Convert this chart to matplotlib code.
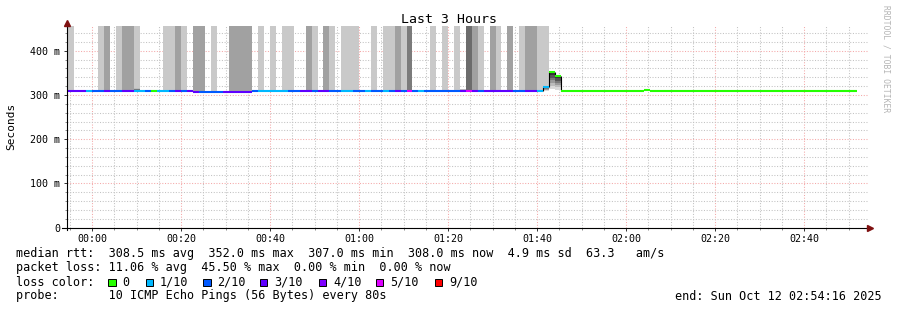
import matplotlib
matplotlib.use("Agg")
import matplotlib.pyplot as plt
from matplotlib.patches import Rectangle
from matplotlib.ticker import FixedLocator, MultipleLocator
import numpy as np

plt.rcParams['font.family'] = ['DejaVu Sans Mono', 'DejaVu Sans']

# ---------------- data (one value per 80 s step) ----------------
STEP_S = 80
FIRST_STEP_MIN = -6.65          # left edge of first step, minutes after 00:00
END_MIN = 174 + 16 / 60         # 02:54:16
SPAN_MIN = 180                  # last 3 hours

# packet loss per step (x/10)
loss = [3, 3, 3, 3, 1, 2, 2, 3, 2, 2,
        3, 3, 1, 1, 2, 0, 1, 1, 2, 3,
        2, 3, 3, 2, 2, 2, 2, 3, 3, 3,
        3, 3, 2, 1, 1, 1, 1, 1, 2, 2,
        3, 3, 2, 3, 3, 2, 2, 1, 1, 2,
        2, 1, 2, 2, 1, 2, 3, 2, 5, 2,
        1, 2, 2, 2, 2, 2, 2, 3, 5, 3,
        2, 3, 3, 3, 3, 3, 2, 2, 3, 3,
        1, 1, 0, 0] + [0] * 50

# median rtt per step (ms)
median = ([309] * 22 + [307] * 10 + [309] * 49 + [319, 352, 343]
          + [308] * 14 + [311] + [308] * 24 + [310] + [308] * 10)

# shade of the smoke that runs off the top of the graph (0 = none)
smoke_top = [1, 1, 0, 0, 0, 0, 1, 2, 0, 1,
             2, 2, 1, 0, 0, 0, 0, 1, 1, 2,
             1, 0, 2, 2, 0, 1, 0, 0, 2, 2,
             2, 2, 0, 1, 0, 1, 0, 1, 1, 0,
             0, 2, 1, 0, 2, 1, 0, 1, 1, 1,
             0, 0, 1, 0, 1, 1, 2, 1, 3, 0,
             0, 0, 1, 0, 1, 0, 1, 0, 4, 2,
             1, 0, 2, 1, 0, 2, 0, 1, 2, 2,
             1, 1, 0, 0] + [0] * 50

# smoke bands around the median (step index, low ms, high ms)
band_steps = [12, 67, 81, 82, 83]
band_lo = [310, 309, 309, 314, 312]
band_hi = [316, 314, 319, 352, 343]

loss_levels = [0, 1, 2, 3, 4, 5, 9]
loss_labels = ['0', '1/10', '2/10', '3/10', '4/10', '5/10', '9/10']
loss_colors = ['#26ff00', '#00b8ff', '#0059ff', '#5e00ff', '#7e00ff', '#dd00ff', '#ff0000']

xtick_pos = [0, 20, 40, 60, 80, 100, 120, 140, 160]
xtick_labels = ['00:00', '00:20', '00:40', '01:00', '01:20', '01:40', '02:00', '02:20', '02:40']
ytick_pos = [0, 100, 200, 300, 400]
ytick_labels = ['0', '100 m', '200 m', '300 m', '400 m']
YMAX = 455

stats_rtt = "median rtt:  308.5 ms avg  352.0 ms max  307.0 ms min  308.0 ms now  4.9 ms sd  63.3   am/s"
stats_loss = "packet loss: 11.06 % avg  45.50 % max  0.00 % min  0.00 % now"
probe_txt = "probe:       10 ICMP Echo Pings (56 Bytes) every 80s"
end_txt = "end: Sun Oct 12 02:54:16 2025"

# ---------------- figure ----------------
W, H = 897, 310
fig = plt.figure(figsize=(W / 100, H / 100), dpi=100)
fig.patch.set_facecolor('white')


def fx(px):
    return px / W


def fy(py):
    return 1 - py / H


AX_L, AX_R, AX_B, AX_T = 66.5, 867.5, 227.7, 26.4
ax = fig.add_axes([fx(AX_L), fy(AX_B), (AX_R - AX_L) / W, (AX_B - AX_T) / H])
ax.set_xlim(END_MIN - SPAN_MIN, END_MIN)
ax.set_ylim(0, YMAX)
for s in ax.spines.values():
    s.set_visible(False)

n = len(loss)
step_w = STEP_S / 60
left = FIRST_STEP_MIN + np.arange(n) * step_w
med = np.array(median, dtype=float)

shade_colors = {1: '#c9c9c9', 2: '#a1a1a1', 3: '#7b7b7b', 4: '#6c6c6c'}
for i in range(n):
    if smoke_top[i]:
        ax.bar(left[i], YMAX - med[i], width=step_w, bottom=med[i], align='edge',
               color=shade_colors[smoke_top[i]], linewidth=0, antialiased=False, zorder=2)

# smoke bands (gradient darker toward median)
layer_cols = ['#dadada', '#bcbcbc', '#9a9a9a', '#787878', '#545454', '#343434']
nl = len(layer_cols)
for k, lo, hi in zip(band_steps, band_lo, band_hi):
    m = med[k]
    for j, c in enumerate(layer_cols):
        b = lo + (m - lo) * j / nl
        t = hi - (hi - m) * j / nl
        if t > b:
            ax.bar(left[k], t - b, width=step_w, bottom=b, align='edge', color=c,
                   linewidth=0, antialiased=False, zorder=3)

# black connectors where the median jumps
for i in range(1, n):
    if abs(med[i] - med[i - 1]) >= 4:
        ax.vlines(left[i], min(med[i], med[i - 1]), max(med[i], med[i - 1]),
                  colors='black', linewidth=0.8, zorder=4)

# median line coloured by loss
cmap = dict(zip(loss_levels, loss_colors))
ax.hlines(med, left, left + step_w, colors=[cmap[l] for l in loss],
          linewidth=1.5, zorder=5)

# grid & ticks
ax.xaxis.set_major_locator(FixedLocator(xtick_pos))
ax.set_xticklabels(xtick_labels)
ax.xaxis.set_minor_locator(MultipleLocator(5))
ax.yaxis.set_major_locator(FixedLocator(ytick_pos))
ax.set_yticklabels(ytick_labels)
ax.yaxis.set_minor_locator(MultipleLocator(20))
ax.set_axisbelow(True)
ax.grid(which='major', color='#f4a8a8', linestyle=(0, (1, 1.6)), linewidth=0.75)
ax.grid(which='minor', color='#c2c2c2', linestyle=(0, (1, 1.6)), linewidth=0.75)
ax.tick_params(which='major', direction='out', length=2.5, width=0.7, color='#333333',
               labelsize=7.2, pad=2.0)
ax.tick_params(which='minor', direction='out', length=1.2, width=0.6, color='#777777')
ax.tick_params(axis='x', which='major', pad=2.2)

# axes lines with arrows
ax.plot([0, 0], [-0.012, 1.0], transform=ax.transAxes, color='black', lw=0.8,
        clip_on=False, zorder=6)
ax.plot([-0.0056, 1.0006], [0, 0], transform=ax.transAxes, color='black', lw=0.8,
        clip_on=False, zorder=6)
ax.plot([0], [1.015], marker='^', markersize=4, color='#7f1010', transform=ax.transAxes,
        clip_on=False, zorder=7)
ax.plot([1.0035], [0], marker='>', markersize=4, color='#7f1010', transform=ax.transAxes,
        clip_on=False, zorder=7)

# texts
fig.text(0.5, fy(19.5), 'Last 3 Hours', ha='center', va='center', fontsize=9.5)
fig.text(fx(11), fy(126), 'Seconds', rotation=90, ha='center', va='center', fontsize=8)
fig.text(fx(886), fy(59), 'RRDTOOL / TOBI OETIKER', rotation=270, ha='center', va='center',
         fontsize=5.8, color='#b4b4b4')

LX = 16
fig.text(fx(LX), fy(257.5), stats_rtt, ha='left', va='baseline', fontsize=8.45)
fig.text(fx(LX), fy(271.5), stats_loss, ha='left', va='baseline', fontsize=8.45)
fig.text(fx(LX), fy(285.5), 'loss color:', ha='left', va='baseline', fontsize=8.45)
fig.text(fx(LX), fy(299.5), probe_txt, ha='left', va='baseline', fontsize=8.45)
fig.text(fx(882), fy(299.5), end_txt, ha='right', va='baseline', fontsize=8.45)

box_x = [108.3, 145.7, 203.3, 260.0, 318.7, 376.0, 435.0]
for bx, lab, col in zip(box_x, loss_labels, loss_colors):
    fig.add_artist(Rectangle((fx(bx), fy(286.0)), 7.3 / W, 7.3 / H, transform=fig.transFigure,
                             facecolor=col, edgecolor='black', linewidth=0.7))
    fig.text(fx(bx + 14.3), fy(285.5), lab, ha='left', va='baseline', fontsize=8.45)

fig.savefig('out.png', dpi=100)
